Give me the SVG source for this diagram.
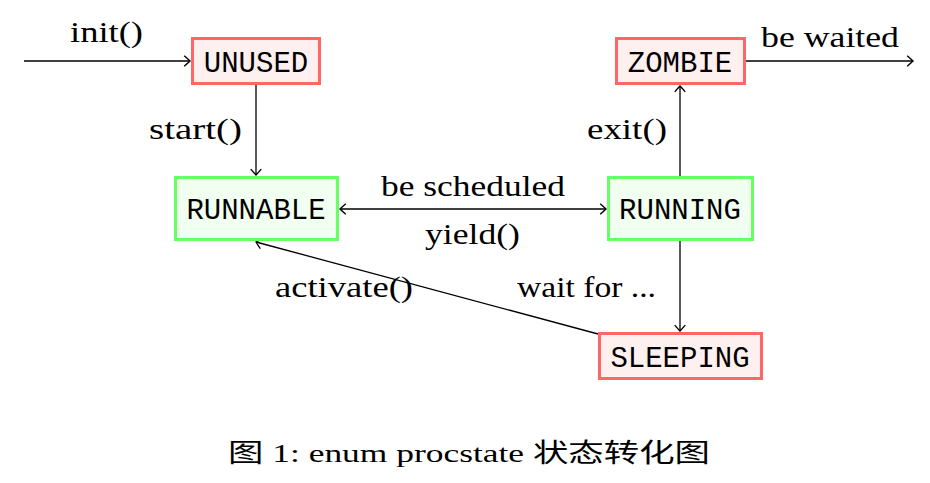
<svg xmlns="http://www.w3.org/2000/svg" width="930" height="483" viewBox="0 0 930 483">
<style>
.red{fill:#FFF0F0;stroke:#FF6666;stroke-width:3}
.green{fill:#F0FFF0;stroke:#66FF66;stroke-width:3}
.nt{font-family:"Liberation Mono","DejaVu Sans Mono",monospace;font-size:29px;text-anchor:middle;fill:#000}
.lb{font-family:"Liberation Serif","DejaVu Serif",serif;font-size:29px;fill:#000}
.edge{fill:none;stroke:#000;stroke-width:1.3}
</style>
<defs>
<marker id="ah" markerUnits="userSpaceOnUse" markerWidth="14" markerHeight="14" viewBox="-8 -6 10 12" refX="0" refY="0" orient="auto-start-reverse">
<path d="M-5,-4.5 Q-1.5,-1.5 0,0 Q-1.5,1.5 -5,4.5" fill="none" stroke="#000" stroke-width="1.2"/>
</marker>
</defs>
<g id="connectors">
<line class="edge" x1="24" y1="61" x2="190" y2="61" marker-end="url(#ah)"/>
<line class="edge" x1="746" y1="61" x2="913" y2="61" marker-end="url(#ah)"/>
<line class="edge" x1="256" y1="85" x2="256" y2="175" marker-end="url(#ah)"/>
<line class="edge" x1="680" y1="176" x2="680" y2="86" marker-end="url(#ah)"/>
<line class="edge" x1="340" y1="209" x2="606" y2="209" marker-start="url(#ah)" marker-end="url(#ah)"/>
<line class="edge" x1="680" y1="241" x2="680" y2="331" marker-end="url(#ah)"/>
<line class="edge" x1="598" y1="334" x2="256" y2="242" marker-end="url(#ah)"/>
<text class="lb" x="70" y="42" textLength="73" lengthAdjust="spacingAndGlyphs">init()</text>
<text class="lb" x="149" y="139" textLength="93" lengthAdjust="spacingAndGlyphs">start()</text>
<text class="lb" x="381" y="196" textLength="184" lengthAdjust="spacingAndGlyphs">be scheduled</text>
<text class="lb" x="425" y="244" textLength="95" lengthAdjust="spacingAndGlyphs">yield()</text>
<text class="lb" x="587" y="139" textLength="80" lengthAdjust="spacingAndGlyphs">exit()</text>
<text class="lb" x="761" y="47" textLength="138" lengthAdjust="spacingAndGlyphs">be waited</text>
<text class="lb" x="275" y="297" textLength="138" lengthAdjust="spacingAndGlyphs">activate()</text>
<text class="lb" x="517" y="297" textLength="139" lengthAdjust="spacingAndGlyphs">wait for ...</text>
</g>
<g id="UNUSED"><rect class="red" x="192.5" y="38.5" width="127" height="45"/><text class="nt" x="256" y="72">UNUSED</text></g>
<g id="ZOMBIE"><rect class="red" x="616.5" y="38.5" width="128" height="45"/><text class="nt" x="680" y="72">ZOMBIE</text></g>
<g id="RUNNABLE"><rect class="green" x="175.5" y="177.5" width="162" height="62"/><text class="nt" x="256" y="219">RUNNABLE</text></g>
<g id="RUNNING"><rect class="green" x="608.5" y="177.5" width="144" height="62"/><text class="nt" x="680" y="219">RUNNING</text></g>
<g id="SLEEPING"><rect class="red" x="599.5" y="333.5" width="162" height="45"/><text class="nt" x="680" y="367">SLEEPING</text></g>
<text x="228" y="462" font-family="'Liberation Serif','Noto Sans CJK SC',serif" font-size="26" textLength="482" lengthAdjust="spacingAndGlyphs" fill="#000">图 1: enum procstate 状态转化图</text>
</svg>
